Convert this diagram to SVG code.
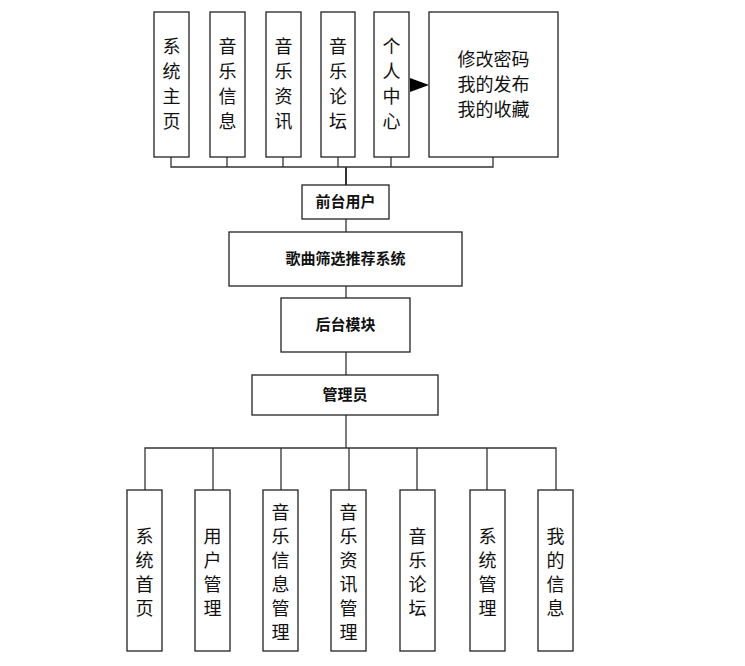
<svg xmlns="http://www.w3.org/2000/svg" width="745" height="666" viewBox="0 0 745 666">
<style>
rect{fill:#fff;stroke:#222;stroke-width:1.3}
text{font-family:"Noto Sans CJK SC",sans-serif;fill:#111;text-anchor:middle}
.v{font-size:18px}
.m{font-size:15px;font-weight:bold}
.c line,.c polyline{stroke:#333;stroke-width:1.3;fill:none}
</style>
<rect x="0" y="0" width="745" height="666" style="stroke:none"/>
<g class="c">
<polyline points="171,157 171,167 493,167 493,157"/>
<line x1="227" y1="157" x2="227" y2="167"/><line x1="283" y1="157" x2="283" y2="167"/>
<line x1="338" y1="157" x2="338" y2="167"/><line x1="391" y1="157" x2="391" y2="167"/>
<line x1="346" y1="167" x2="346" y2="185" style="stroke-width:2"/>
<line x1="346" y1="219" x2="346" y2="232"/>
<line x1="346" y1="286" x2="346" y2="298"/>
<line x1="346" y1="352" x2="346" y2="375"/>
<line x1="346" y1="415" x2="346" y2="448"/>
<polyline points="145,490 145,448 556,448 556,490"/>
<line x1="213" y1="448" x2="213" y2="490"/><line x1="281" y1="448" x2="281" y2="490"/>
<line x1="349" y1="448" x2="349" y2="490"/><line x1="417" y1="448" x2="417" y2="490"/>
<line x1="487" y1="448" x2="487" y2="490"/>
<polygon points="410,78 429,85 410,92" style="fill:#000;stroke:none"/>
</g>
<g id="n1"><rect x="154" y="12" width="35" height="145"/><text class="v" x="171.5" y="53">系</text><text class="v" x="171.5" y="78">统</text><text class="v" x="171.5" y="103">主</text><text class="v" x="171.5" y="128">页</text></g>
<g id="n2"><rect x="210" y="12" width="35" height="145"/><text class="v" x="227.5" y="53">音</text><text class="v" x="227.5" y="78">乐</text><text class="v" x="227.5" y="103">信</text><text class="v" x="227.5" y="128">息</text></g>
<g id="n3"><rect x="266" y="12" width="35" height="145"/><text class="v" x="283.5" y="53">音</text><text class="v" x="283.5" y="78">乐</text><text class="v" x="283.5" y="103">资</text><text class="v" x="283.5" y="128">讯</text></g>
<g id="n4"><rect x="321" y="12" width="34" height="145"/><text class="v" x="338" y="53">音</text><text class="v" x="338" y="78">乐</text><text class="v" x="338" y="103">论</text><text class="v" x="338" y="128">坛</text></g>
<g id="n5"><rect x="374" y="12" width="35" height="145"/><text class="v" x="391.5" y="53">个</text><text class="v" x="391.5" y="78">人</text><text class="v" x="391.5" y="103">中</text><text class="v" x="391.5" y="128">心</text></g>
<g id="n6"><rect x="429" y="12" width="129" height="145"/><text class="v" x="493.5" y="66">修改密码</text><text class="v" x="493.5" y="91">我的发布</text><text class="v" x="493.5" y="116">我的收藏</text></g>
<g id="qt"><rect x="302" y="185" width="87" height="34"/><text class="m" x="345.5" y="207">前台用户</text></g>
<g id="sys"><rect x="229" y="232" width="233" height="54"/><text class="m" x="345.5" y="264">歌曲筛选推荐系统</text></g>
<g id="ht"><rect x="281" y="298" width="129" height="54"/><text class="m" x="345.5" y="330">后台模块</text></g>
<g id="admin"><rect x="252" y="375" width="186" height="40"/><text class="m" x="345" y="400">管理员</text></g>
<g id="b1"><rect x="127" y="490" width="35" height="161"/><text class="v" x="144.5" y="543">系</text><text class="v" x="144.5" y="567">统</text><text class="v" x="144.5" y="591">首</text><text class="v" x="144.5" y="615">页</text></g>
<g id="b2"><rect x="195" y="490" width="35" height="161"/><text class="v" x="212.5" y="543">用</text><text class="v" x="212.5" y="567">户</text><text class="v" x="212.5" y="591">管</text><text class="v" x="212.5" y="615">理</text></g>
<g id="b3"><rect x="263" y="490" width="35" height="161"/><text class="v" x="280.5" y="519">音</text><text class="v" x="280.5" y="543">乐</text><text class="v" x="280.5" y="567">信</text><text class="v" x="280.5" y="591">息</text><text class="v" x="280.5" y="615">管</text><text class="v" x="280.5" y="639">理</text></g>
<g id="b4"><rect x="331" y="490" width="35" height="161"/><text class="v" x="348.5" y="519">音</text><text class="v" x="348.5" y="543">乐</text><text class="v" x="348.5" y="567">资</text><text class="v" x="348.5" y="591">讯</text><text class="v" x="348.5" y="615">管</text><text class="v" x="348.5" y="639">理</text></g>
<g id="b5"><rect x="400" y="490" width="35" height="161"/><text class="v" x="417.5" y="543">音</text><text class="v" x="417.5" y="567">乐</text><text class="v" x="417.5" y="591">论</text><text class="v" x="417.5" y="615">坛</text></g>
<g id="b6"><rect x="470" y="490" width="35" height="161"/><text class="v" x="487.5" y="543">系</text><text class="v" x="487.5" y="567">统</text><text class="v" x="487.5" y="591">管</text><text class="v" x="487.5" y="615">理</text></g>
<g id="b7"><rect x="538" y="490" width="35" height="161"/><text class="v" x="555.5" y="543">我</text><text class="v" x="555.5" y="567">的</text><text class="v" x="555.5" y="591">信</text><text class="v" x="555.5" y="615">息</text></g>
</svg>
